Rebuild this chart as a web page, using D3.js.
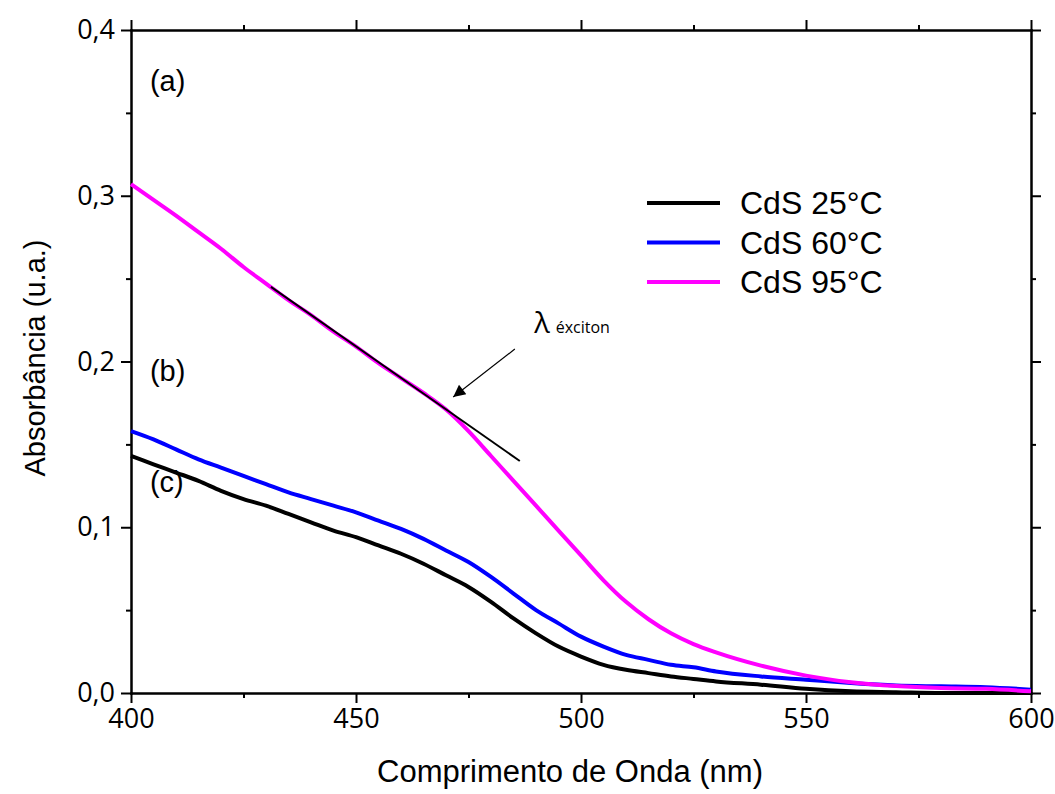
<!DOCTYPE html>
<meta charset="utf-8">
<script src="https://cdn.jsdelivr.net/npm/d3@7"></script>
<style>
    body { margin: 0; background: white; }
    svg { display: block; }
    .tick text { font-family: "Open Sans", sans-serif; font-size: 27px; fill: black; }
    .lbl { font-family: "Liberation Sans", Arial, sans-serif; fill: black; }
</style>
<div id="chart"></div>
<script>
    // wavelength grid (nm) and absorbance
    var wavelength = [400, 405, 410, 415, 420, 425, 430, 435, 440, 445, 450, 455, 460, 465, 470, 475,
                      480, 485, 490, 495, 500, 505, 510, 515, 520, 525, 530, 540, 550, 560, 570, 580, 590, 600];
    var cds25 = [0.143, 0.138, 0.133, 0.128, 0.122, 0.117, 0.113, 0.108, 0.103, 0.098, 0.094, 0.089, 0.084, 0.078,
                 0.071, 0.064, 0.055, 0.045, 0.036, 0.028, 0.022, 0.017, 0.014, 0.012, 0.010, 0.0085, 0.007,
                 0.005, 0.0025, 0.001, 0.0005, 0, 0, 0];
    var cds60 = [0.158, 0.153, 0.147, 0.141, 0.136, 0.131, 0.126, 0.121, 0.117, 0.113, 0.109, 0.104, 0.099, 0.093,
                 0.086, 0.079, 0.070, 0.060, 0.050, 0.042, 0.034, 0.028, 0.023, 0.020, 0.017, 0.0155, 0.013,
                 0.010, 0.008, 0.006, 0.0045, 0.004, 0.0035, 0.002];
    var cds95 = [0.307, 0.2975, 0.288, 0.278, 0.268, 0.257, 0.247, 0.237, 0.228, 0.218, 0.209, 0.199, 0.190, 0.181,
                 0.171, 0.158, 0.143, 0.128, 0.113, 0.098, 0.083, 0.068, 0.055, 0.0445, 0.036, 0.0295, 0.0245,
                 0.0165, 0.0105, 0.0065, 0.0042, 0.003, 0.0025, 0.001];
    var seriesNames = ["CdS 25°C", "CdS 60°C", "CdS 95°C"];
    var seriesColors = ["#000000", "#0000ff", "#ff00ff"];
    var xMajor = [400, 450, 500, 550, 600], xMinor = [425, 475, 525, 575];
    var yMajor = [0, 0.1, 0.2, 0.3, 0.4], yMinor = [0.05, 0.15, 0.25, 0.35];
    // tangent used to find the exciton wavelength
    var tangentX = [431.1, 486.4], tangentY = [0.245, 0.140];

    var W = 1055, H = 794,
        mLeft = 131, mRight = 1031, mTop = 30, mBottom = 693;

    var svg = d3.select("#chart").append("svg").attr("width", W).attr("height", H);
    var x = d3.scaleLinear().domain([400, 600]).range([mLeft, mRight]),
        y = d3.scaleLinear().domain([0, 0.4]).range([mBottom, mTop]);
    var comma = function(d) { return d3.format(".1f")(d).replace(".", ","); };

    function axisPair(axisFn, scale, major, minor, fmt, tx) {
        var g = svg.append("g").attr("transform", tx);
        g.append("g").call(axisFn(scale).tickValues(minor).tickSize(5).tickSizeOuter(0).tickFormat(""));
        g.append("g").call(axisFn(scale).tickValues(major).tickSize(10).tickSizeOuter(0).tickFormat(fmt).tickPadding(6));
        g.selectAll("path, line").attr("stroke", "black").attr("stroke-width", 2);
        return g;
    }
    axisPair(d3.axisBottom, x, xMajor, xMinor, d3.format("d"), "translate(0," + mBottom + ")");
    axisPair(d3.axisTop, x, xMajor, xMinor, "", "translate(0," + mTop + ")");
    axisPair(d3.axisLeft, y, yMajor, yMinor, comma, "translate(" + mLeft + ",0)");
    axisPair(d3.axisRight, y, yMajor, yMinor, "", "translate(" + mRight + ",0)");
    svg.selectAll(".domain").attr("stroke-linecap", "square");

    var line = d3.line().x(function(d) { return x(d[0]); }).y(function(d) { return y(d[1]); });
    var smooth = d3.line().curve(d3.curveMonotoneX).x(function(d) { return x(d[0]); }).y(function(d) { return y(d[1]); });
    [cds25, cds60, cds95].forEach(function(vals, i) {
        svg.append("path")
            .datum(wavelength.map(function(w, k) { return [w, vals[k]]; }))
            .attr("d", smooth).attr("fill", "none")
            .attr("stroke", seriesColors[i]).attr("stroke-width", 4)
            .attr("stroke-linejoin", "round");
    });

    svg.append("path").datum(d3.zip(tangentX, tangentY)).attr("d", line)
        .attr("stroke", "black").attr("stroke-width", 2).attr("fill", "none");

    // arrow pointing at the tangent
    svg.append("defs").append("marker").attr("id", "head")
        .attr("viewBox", "0 0 10 10").attr("refX", 10).attr("refY", 5)
        .attr("markerWidth", 16).attr("markerHeight", 12).attr("markerUnits", "userSpaceOnUse")
        .attr("orient", "auto")
        .append("path").attr("d", "M0,0L10,5L0,10Z").attr("fill", "black");
    svg.append("line").attr("x1", x(485.3)).attr("y1", y(0.2075)).attr("x2", x(471.6)).attr("y2", y(0.1786))
        .attr("stroke", "black").attr("stroke-width", 1.2).attr("marker-end", "url(#head)");
    var lam = svg.append("text").attr("x", x(489.6)).attr("y", y(0.217))
        .attr("font-family", "'Open Sans', sans-serif").attr("fill", "black");
    lam.append("tspan").attr("font-size", 29).text("λ");
    lam.append("tspan").attr("font-size", 16).attr("dx", 6).text("éxciton");

    // panel labels
    [["(a)", 0.363], ["(b)", 0.188], ["(c)", 0.121]].forEach(function(p) {
        svg.append("text").attr("class", "lbl").attr("x", x(404.2)).attr("y", y(p[1]))
            .attr("font-size", 29).text(p[0]);
    });

    // legend
    var leg = svg.append("g");
    seriesNames.forEach(function(name, i) {
        var yy = 203 + i * 39.5;
        leg.append("line").attr("x1", 647).attr("x2", 720).attr("y1", yy).attr("y2", yy)
            .attr("stroke", seriesColors[i]).attr("stroke-width", 4);
        leg.append("text").attr("class", "lbl").attr("x", 740).attr("y", yy + 11)
            .attr("font-size", 32).text(name);
    });

    svg.append("text").attr("class", "lbl").attr("x", (mLeft + mRight) / 2 - 11).attr("y", 782)
        .attr("text-anchor", "middle").attr("font-size", 31).text("Comprimento de Onda (nm)");
    svg.append("text").attr("class", "lbl")
        .attr("transform", "translate(45," + 358 + ") rotate(-90)")
        .attr("text-anchor", "middle").attr("font-size", 29).text("Absorbância (u.a.)");
</script>
